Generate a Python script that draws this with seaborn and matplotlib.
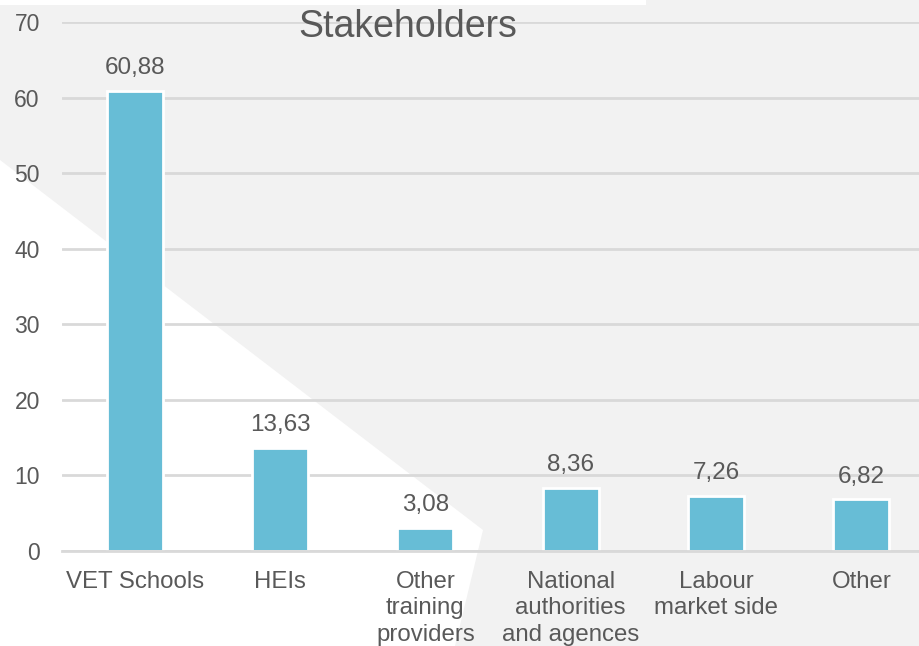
import seaborn as sns
import pandas as pd
import matplotlib
matplotlib.use("Agg")
import matplotlib.pyplot as plt
from matplotlib.patches import Polygon
from matplotlib.ticker import FixedLocator

sns.set_style("white")
plt.rcParams['font.family'] = ['Liberation Sans', 'DejaVu Sans']

# data
categories = ["VET Schools", "HEIs", "Other\ntraining\nproviders",
              "National\nauthorities\nand agences", "Labour\nmarket side", "Other"]
values = [60.88, 13.63, 3.08, 8.36, 7.26, 6.82]
value_labels = ["60,88", "13,63", "3,08", "8,36", "7,26", "6,82"]
yticks = [0, 10, 20, 30, 40, 50, 60, 70]

TEXT = "#595959"
BAR = "#67BDD6"
GRID = "#D9D9D9"

W, H = 920, 646
fig = plt.figure(figsize=(W / 100, H / 100), dpi=100, facecolor="white")

# grey backdrop with the white diagonal cut (pixel outline, y from top)
bg = [(0, 5), (646, 5), (646, 0), (920, 0), (920, 646), (455, 646), (483, 530), (0, 160)]
fig.patches.append(Polygon([(x / W, 1 - y / H) for x, y in bg], closed=True,
                           transform=fig.transFigure, facecolor="#F2F2F2",
                           edgecolor="none", zorder=0))

ax = fig.add_axes([62 / W, 1 - 551 / H, 872 / W, 529 / H])
ax.set_facecolor("none")
ax.set_zorder(2)

df = pd.DataFrame({"Stakeholder": categories, "Share": values})
sns.barplot(data=df, x="Stakeholder", y="Share", color=BAR, width=0.385,
            edgecolor="white", linewidth=2, saturation=1, ax=ax, zorder=3)

for i, (v, lab) in enumerate(zip(values, value_labels)):
    ax.annotate(lab, (i, v), xytext=(0, 8.5), textcoords="offset points",
                ha="center", va="bottom", fontsize=17.5, color=TEXT)

ax.set_ylim(0, 70)
ax.set_xlim(-0.5, len(categories) - 0.5)
ax.set_yticks(yticks)
ax.yaxis.grid(True, color=GRID, linewidth=2)
ax.set_axisbelow(True)
ax.set_xlabel("")
ax.set_ylabel("")

for s in ["top", "right", "left"]:
    ax.spines[s].set_visible(False)
ax.spines["bottom"].set_color(GRID)
ax.spines["bottom"].set_linewidth(2)
ax.spines["bottom"].set_zorder(4)

ax.tick_params(axis="y", length=0, pad=16, labelsize=16.5, labelcolor=TEXT)
ax.tick_params(axis="x", which="major", length=0, pad=14.5, labelsize=17.3, labelcolor=TEXT)
ax.xaxis.set_minor_locator(FixedLocator([i - 0.5 for i in range(len(categories) + 1)]))
ax.tick_params(axis="x", which="minor", length=6, width=1.5, color=GRID)
for t in ax.get_xticklabels():
    t.set_va("top")
    t.set_linespacing(1.25)

fig.text(408 / W, 1 - 27 / H, "Stakeholders", ha="center", va="center",
         fontsize=27, color=TEXT)

fig.savefig("out.png", dpi=100)
